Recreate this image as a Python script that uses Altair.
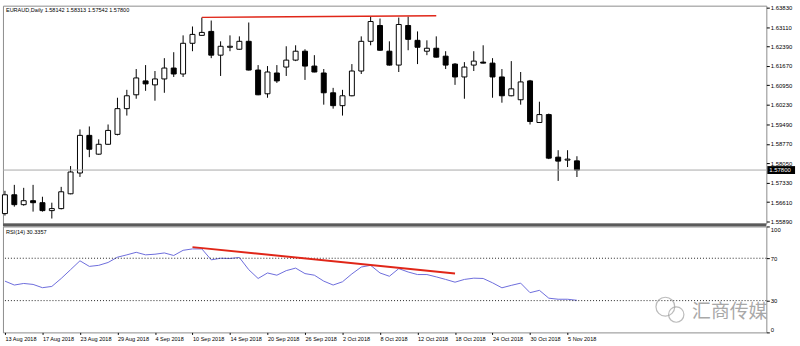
import altair as alt
import pandas as pd

symbol = "EURAUD,Daily"

opens = [1.56184, 1.56882, 1.56515, 1.56662, 1.56588, 1.56294, 1.56368, 1.56919, 1.57691, 1.59088,
         1.58390, 1.58757, 1.59125, 1.60080, 1.60595, 1.61110, 1.60963, 1.61183, 1.61588, 1.61367,
         1.62507, 1.62801, 1.62948, 1.62066, 1.62360, 1.62286, 1.62580, 1.61514, 1.60632, 1.61404,
         1.61624, 1.61882, 1.62213, 1.61661, 1.61404, 1.60669, 1.60191, 1.60558, 1.61477, 1.62580,
         1.63168, 1.62213, 1.61698, 1.63168, 1.62617, 1.62213, 1.62323, 1.62029, 1.61735, 1.61257,
         1.61698, 1.61808, 1.61771, 1.61257, 1.60558, 1.60411, 1.61110, 1.59566, 1.59860, 1.58279,
         1.58169, 1.58142]
highs = [1.57029, 1.57250, 1.57140, 1.57250, 1.56809, 1.56588, 1.57176, 1.57948, 1.59309, 1.59419,
         1.58941, 1.59492, 1.60485, 1.60779, 1.61551, 1.61698, 1.61477, 1.61955, 1.62176, 1.62801,
         1.63131, 1.63462, 1.63352, 1.62580, 1.62801, 1.62764, 1.63279, 1.61698, 1.61661, 1.61698,
         1.62396, 1.62433, 1.62286, 1.62066, 1.61551, 1.60852, 1.60779, 1.61735, 1.62764, 1.63499,
         1.63426, 1.62580, 1.63462, 1.63499, 1.62948, 1.62617, 1.62764, 1.62213, 1.61771, 1.61808,
         1.62213, 1.62433, 1.61955, 1.61551, 1.61845, 1.61441, 1.61147, 1.60338, 1.59897, 1.58537,
         1.58537, 1.58313]
lows = [1.56110, 1.56441, 1.56478, 1.56257, 1.56257, 1.56000, 1.56340, 1.56900, 1.57544, 1.58279,
        1.58370, 1.58740, 1.59088, 1.59823, 1.60448, 1.60742, 1.60375, 1.60669, 1.61257, 1.61257,
        1.62213, 1.62790, 1.61955, 1.61294, 1.62213, 1.62270, 1.61500, 1.60580, 1.60485, 1.61036,
        1.61294, 1.61845, 1.61147, 1.61430, 1.60228, 1.60080, 1.59823, 1.60540, 1.61367, 1.62433,
        1.62230, 1.61680, 1.61441, 1.62249, 1.61735, 1.62066, 1.61980, 1.61551, 1.60963, 1.60448,
        1.61477, 1.61760, 1.60485, 1.60301, 1.60540, 1.60228, 1.59492, 1.59550, 1.58206, 1.57397,
        1.57912, 1.57542]
closes = [1.56882, 1.56515, 1.56662, 1.56588, 1.56294, 1.56368, 1.56993, 1.57728, 1.59088, 1.58573,
          1.58757, 1.59272, 1.60080, 1.60558, 1.61220, 1.60999, 1.61183, 1.61588, 1.61367, 1.62507,
          1.62837, 1.62911, 1.62066, 1.62396, 1.62396, 1.62580, 1.61514, 1.60595, 1.61441, 1.61110,
          1.61882, 1.62213, 1.61661, 1.61441, 1.60669, 1.60191, 1.60558, 1.61477, 1.62580, 1.63315,
          1.62249, 1.61698, 1.63205, 1.62654, 1.62360, 1.62323, 1.61992, 1.61698, 1.61257, 1.61624,
          1.61845, 1.61771, 1.61257, 1.60558, 1.60816, 1.61073, 1.59603, 1.59860, 1.58242, 1.58132,
          1.58206, 1.57800]

rsi = [48.4, 44.7, 46.2, 45.3, 42.2, 43.4, 50.9, 59.2, 67.6, 62.3,
       63.3, 66.0, 71.0, 73.2, 75.6, 73.2, 73.8, 75.0, 72.6, 77.5,
       78.8, 78.8, 68.5, 70.0, 69.8, 70.7, 59.2, 50.9, 56.1, 54.0,
       58.3, 60.7, 55.5, 54.0, 48.4, 44.7, 47.8, 55.2, 61.7, 63.3,
       56.1, 53.0, 60.2, 57.0, 54.6, 54.6, 52.4, 50.0, 47.4, 50.0,
       51.2, 50.9, 46.8, 42.1, 44.4, 46.5, 37.5, 39.7, 32.3, 31.3,
       31.3, 30.3]
rsi_last = "30.3357"

tick_idx = [0, 4, 8, 12, 16, 20, 24, 28, 32, 36, 40, 44, 48, 52, 56, 60]
tick_labels = ["13 Aug 2018", "17 Aug 2018", "23 Aug 2018", "29 Aug 2018", "4 Sep 2018",
               "10 Sep 2018", "14 Sep 2018", "20 Sep 2018", "26 Sep 2018", "2 Oct 2018",
               "8 Oct 2018", "12 Oct 2018", "18 Oct 2018", "24 Oct 2018", "30 Oct 2018",
               "5 Nov 2018"]
price_ticks = [1.63830, 1.63110, 1.62390, 1.61670, 1.60950, 1.60230, 1.59490,
               1.58770, 1.58050, 1.57330, 1.56610, 1.55890]
rsi_ticks = [0, 30, 70, 100]
rsi_levels = [30, 70]

# trend lines (index, value)
price_trend_i = [21, 46]
price_trend_v = [1.63468, 1.63530]
rsi_trend_i = [20, 48]
rsi_trend_v = [80.5, 55.7]

FONT = "Liberation Sans"
W = 771

df = pd.DataFrame({"i": list(range(len(opens))), "open": opens, "high": highs,
                   "low": lows, "close": closes})
df["dir"] = ["up" if c >= o else "down" for o, c in zip(opens, closes)]

xs = alt.Scale(domain=[-0.21, 81.2], nice=False, zero=False, padding=0)
ys = alt.Scale(domain=[1.55816, 1.63904], nice=False, zero=False, padding=0)
rys = alt.Scale(domain=[0, 100], nice=False, zero=False, padding=0)

py_axis = alt.Axis(orient="right", values=price_ticks, format=".5f", labelFontSize=6,
                   tickSize=3, tickColor="black", domain=False, grid=False, labelPadding=1,
                   labelOverlap=False, labelFlush=False, labelColor="black", title=None)
label_expr = "[" + ",".join(f"'{s}'" for s in tick_labels) + "][round(datum.value/4)]"
rx_axis = alt.Axis(values=tick_idx, labelExpr=label_expr, labelAlign="left", labelFontSize=5.6,
                   tickSize=2, domain=False, grid=False, labelPadding=2, labelFlush=False,
                   labelOverlap=False, labelColor="black", tickColor="black", title=None)
ry_axis = alt.Axis(orient="right", values=rsi_ticks, labelFontSize=6, tickSize=3,
                   domain=False, grid=False, labelPadding=1, labelFlush=True,
                   labelOverlap=False, labelColor="black", tickColor="black", title=None)

x_none = alt.X("i:Q", scale=xs, axis=None)

wicks = alt.Chart(df).mark_rule(color="black", strokeWidth=1).encode(
    x=x_none, y=alt.Y("low:Q", scale=ys, axis=py_axis), y2="high:Q")
bodies = alt.Chart(df).mark_bar(size=5, stroke="black", strokeWidth=1).encode(
    x=x_none,
    y=alt.Y("open:Q", scale=ys, axis=py_axis),
    y2="close:Q",
    fill=alt.Fill("dir:N", scale=alt.Scale(domain=["up", "down"], range=["white", "black"]),
                  legend=None),
)

last = pd.DataFrame({"p": [closes[-1]], "lab": [f"{closes[-1]:.5f}"]})
bid_line = alt.Chart(last).mark_rule(color="#a8a8a8", strokeWidth=1).encode(
    y=alt.Y("p:Q", scale=ys, axis=py_axis))
bid_box = alt.Chart(last).mark_rule(color="black", strokeWidth=8, clip=False).encode(
    x=alt.value(W + 1), x2=alt.value(W + 29), y=alt.Y("p:Q", scale=ys, axis=py_axis))
bid_text = alt.Chart(last).mark_text(color="white", align="left", baseline="middle",
                                     fontSize=6, font=FONT, clip=False).encode(
    x=alt.value(W + 3), y=alt.Y("p:Q", scale=ys, axis=py_axis), text="lab:N")

ptrend = pd.DataFrame({"i": price_trend_i, "v": price_trend_v})
price_red = alt.Chart(ptrend).mark_line(color="#e02618", strokeWidth=1.4).encode(
    x=x_none, y=alt.Y("v:Q", scale=ys, axis=py_axis))

header = f"{symbol}  {opens[-1]:.5f} {highs[-1]:.5f} {lows[-1]:.5f} {closes[-1]:.5f}"
head = alt.Chart(pd.DataFrame({"t": [header]})).mark_text(
    align="left", baseline="middle", fontSize=5.6, font=FONT, color="black").encode(
    x=alt.value(3), y=alt.value(4), text="t:N")

sep = alt.Chart(pd.DataFrame({"a": [0]})).mark_rule(color="#5a5a5a", strokeWidth=3).encode(
    y=alt.value(221.5))

price = alt.layer(wicks, bodies, bid_line, price_red, bid_box, bid_text, head, sep).properties(
    width=W, height=220)

# RSI panel
rdf = pd.DataFrame({"i": list(range(len(rsi))), "rsi": rsi})

rsi_line = alt.Chart(rdf).mark_line(color="#6c6cdc", strokeWidth=1).encode(
    x=alt.X("i:Q", scale=xs, axis=rx_axis),
    y=alt.Y("rsi:Q", scale=rys, axis=ry_axis),
)
levels = alt.Chart(pd.DataFrame({"lv": rsi_levels})).mark_rule(
    color="#222", strokeWidth=1, strokeDash=[1, 2]).encode(
    y=alt.Y("lv:Q", scale=rys, axis=ry_axis))
rtrend = pd.DataFrame({"i": rsi_trend_i, "v": rsi_trend_v})
rsi_red = alt.Chart(rtrend).mark_line(color="#e02618", strokeWidth=2).encode(
    x=alt.X("i:Q", scale=xs, axis=rx_axis), y=alt.Y("v:Q", scale=rys, axis=ry_axis))
rsi_head = alt.Chart(pd.DataFrame({"t": [f"RSI(14) {rsi_last}"]})).mark_text(
    align="left", baseline="middle", fontSize=5.6, font=FONT, color="black").encode(
    x=alt.value(3), y=alt.value(6), text="t:N")

wm = alt.Chart(pd.DataFrame({"t": ["汇商传媒"]})).mark_text(
    align="left", baseline="middle", fontSize=19, font="Noto Sans CJK SC",
    color="#9a9a9a", opacity=0.85).encode(x=alt.value(696), y=alt.value(86), text="t:N")
logo_big = alt.Chart(pd.DataFrame({"a": [0]})).mark_point(
    shape="circle", filled=False, color="#a0a0a0", size=360, strokeWidth=1.2).encode(
    x=alt.value(669), y=alt.value(81))
logo_small = alt.Chart(pd.DataFrame({"a": [0]})).mark_point(
    shape="circle", filled=False, color="#a0a0a0", size=240, strokeWidth=1.2).encode(
    x=alt.value(680), y=alt.value(89))

rsi_chart = alt.layer(rsi_line, levels, rsi_red, rsi_head, logo_big, logo_small, wm).properties(
    width=W, height=107)

chart = alt.vconcat(price, rsi_chart, spacing=3, bounds="flush").configure(
    padding={"left": 1, "top": 2, "right": 0, "bottom": 0}, font=FONT
).configure_view(stroke="#8c8c8c", strokeWidth=1).configure_axis(
    labelFont=FONT, labelOverlap=False)

chart.save("out.html", embed_options={"renderer": "svg", "actions": False})
